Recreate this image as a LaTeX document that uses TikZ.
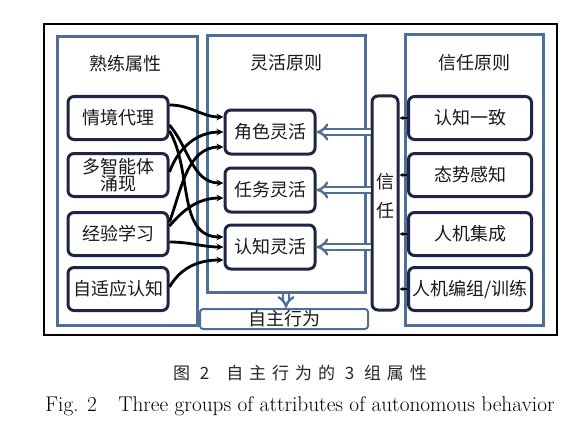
\documentclass[tikz,border=0pt]{standalone}
\usepackage{fontspec}
\newfontfamily\cjk{Noto Sans CJK SC}
\newfontfamily\cjkcap[LetterSpace=35]{Noto Sans CJK SC}
\usetikzlibrary{arrows.meta}
\definecolor{panelblue}{HTML}{4F6F96}
\definecolor{boxnavy}{HTML}{1F2544}
\tikzset{
  panel/.style={draw=panelblue, line width=3pt, fill=white, inner sep=0pt},
  cjktext/.style={font=\cjk\fontsize{18}{17}\selectfont, text=black!90},
  attr/.style={cjktext, draw=boxnavy, line width=3pt, rounded corners=6pt,
    fill=white, minimum height=43pt, inner sep=0pt, align=center},
  link/.style={line width=2.8pt, -{Stealth[length=7pt,width=6.5pt]}},
  feed/.style={line width=1.2pt, -{Stealth[length=4pt,width=4pt]}},
  trustarrow/.style={draw=panelblue, line width=2.4pt, double=white,
    double distance=3.2pt, -{Implies}}
}
\begin{document}
\begin{tikzpicture}[x=1pt,y=-1pt]
  \useasboundingbox (0,0) rectangle (585,433);
  \draw[line width=2pt] (44,24) rectangle (557,335);
  \draw
    (127,181) node[panel, minimum width=140pt, minimum height=288pt] (lpanel){}
    (286,164) node[panel, minimum width=158pt, minimum height=256pt] (mpanel){}
    (474,180) node[panel, minimum width=138pt, minimum height=290pt] (rpanel){}
    (284,319) node[panel, cjktext, line width=2pt, rounded corners=3pt,
      minimum width=168pt, minimum height=20pt] (auto){自主行为}
    (125,64) node[cjktext] (t1){熟练属性}
    (286,63) node[cjktext] (t2){灵活原则}
    (474,63) node[cjktext] (t3){信任原则};
  \draw
    (118,118) node[attr, minimum width=100pt] (a1){情境代理}
    (118,175) node[attr, minimum width=100pt] (a2){多智能体\\涌现}
    (118,234) node[attr, minimum width=100pt] (a3){经验学习}
    (118,289) node[attr, minimum width=100pt] (a4){自适应认知}
    (270,132) node[attr, minimum width=90pt, minimum height=44pt] (m1){角色灵活}
    (270,190) node[attr, minimum width=90pt, minimum height=44pt] (m2){任务灵活}
    (270,247) node[attr, minimum width=90pt, minimum height=44pt] (m3){认知灵活}
    (385,203) node[attr, font=\cjk\fontsize{18}{29}\selectfont, text depth=15pt,
      minimum width=26pt, minimum height=214pt] (trust){信\\任}
    (470,118) node[attr, minimum width=123pt] (r1){认知一致}
    (470,175) node[attr, minimum width=123pt] (r2){态势感知}
    (470,234) node[attr, minimum width=123pt] (r3){人机集成}
    (470,289) node[attr, minimum width=123pt] (r4){人机编组/训练};
  \begin{scope}[link]
    \draw ([yshift=13pt]a1.east) to[out=0,in=180] ([yshift=15pt]m1.west);
    \draw ([yshift=-7pt]a1.east) to[out=-50,in=180] ([yshift=7pt]m2.west);
    \draw ([yshift=-13pt]a1.east) to[out=-60,in=180] ([yshift=10pt]m3.west);
    \draw ([yshift=3pt]a2.east) to[out=70,in=180] (m1.west);
    \draw ([yshift=12pt]a3.east) to[out=70,in=180] ([yshift=-15pt]m1.west);
    \draw ([yshift=8pt]a3.east) to[out=50,in=180] ([yshift=-8pt]m2.west);
    \draw ([yshift=-8pt]a3.east) to[out=0,in=180] (m3.west);
    \draw ([yshift=2pt]a4.east) to[out=60,in=180] ([yshift=-13pt]m3.west);
  \end{scope}
  \draw[trustarrow] (trust.west |- m1.east) -- (m1.east);
  \draw[trustarrow] (trust.west |- m2.east) -- (m2.east);
  \draw[trustarrow] (trust.west |- m3.east) -- (m3.east);
  \draw[trustarrow] (mpanel.south) -- (mpanel.south |- auto.north);
  \begin{scope}[feed]
    \draw (r1.west) -- (r1.west -| trust.east);
    \draw (r2.west) -- (r2.west -| trust.east);
    \draw (r3.west) -- (r3.west -| trust.east);
    \draw (r4.west) -- (r4.west -| trust.east);
  \end{scope}
  \node[font=\cjkcap\fontsize{17}{17}\selectfont, text=black!85] (capzh) at (300,373)
    {图 2\quad 自主行为的 3 组属性};
  \node[font=\fontsize{21.3}{21.3}\selectfont] (capen) at (300,406)
    {Fig. 2\quad Three groups of attributes of autonomous behavior};
\end{tikzpicture}
\end{document}
